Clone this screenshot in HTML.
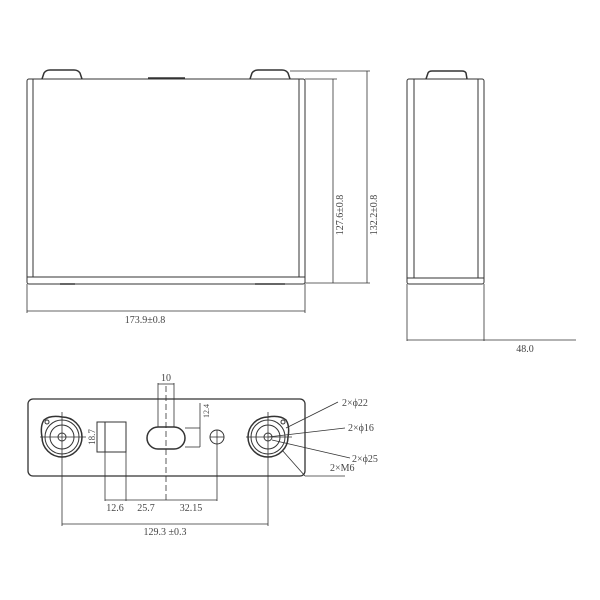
<!DOCTYPE html>
<html><head><style>html,body{margin:0;padding:0;background:#fff}</style></head>
<body>
<svg width="600" height="600" viewBox="0 0 600 600" xmlns="http://www.w3.org/2000/svg" style="display:block">
<g fill="none" stroke="#333" stroke-width="1">
<!-- front view -->
<rect x="27" y="79" width="278" height="205" rx="2"/>
<line x1="33" y1="79" x2="33" y2="277"/>
<line x1="299" y1="79" x2="299" y2="277"/>
<path d="M27 277 L305 277"/>
<path d="M42 79 L44 73 Q46 70 50 70 L74 70 Q78 70 80 73 L82 79" stroke-width="1.5"/>
<path d="M250 79 L252 73 Q254 70 258 70 L282 70 Q286 70 288 73 L290 79" stroke-width="1.5"/>
<line x1="148" y1="78" x2="185" y2="78" stroke-width="1.5"/>
<line x1="60" y1="284" x2="75" y2="284" stroke-width="1.5"/>
<line x1="255" y1="284" x2="285" y2="284" stroke-width="1.5"/>
<!-- dims -->
<line x1="305" y1="79" x2="337" y2="79" stroke-width="0.8"/>
<line x1="305" y1="283" x2="370" y2="283" stroke-width="0.8"/>
<line x1="333" y1="79" x2="333" y2="283" stroke-width="0.8"/>
<line x1="290" y1="71" x2="370" y2="71" stroke-width="0.8"/>
<line x1="367" y1="71" x2="367" y2="283" stroke-width="0.8"/>
<line x1="27" y1="284" x2="27" y2="313" stroke-width="0.8"/>
<line x1="305" y1="284" x2="305" y2="313" stroke-width="0.8"/>
<line x1="27" y1="311" x2="305" y2="311" stroke-width="0.8"/>
<!-- side view -->
<rect x="407" y="79" width="77" height="205" rx="2"/>
<line x1="414" y1="79" x2="414" y2="278"/>
<line x1="478" y1="79" x2="478" y2="278"/>
<line x1="407" y1="278" x2="484" y2="278"/>
<path d="M426 79 L428 73 Q429 71 432 71 L462 71 Q465 71 466 73 L467 79" stroke-width="1.5"/>
<line x1="407" y1="284" x2="407" y2="341" stroke-width="0.8"/>
<line x1="484" y1="284" x2="484" y2="341" stroke-width="0.8"/>
<line x1="407" y1="340" x2="576" y2="340" stroke-width="0.8"/>
<!-- bottom view -->
<rect x="28" y="399" width="277" height="77" rx="5" stroke-width="1.3"/>
<g id="t">
<path d="M62 417 Q50 415 44 420 Q40 426 42 437 A20 20 0 1 0 62 417 Z" stroke-width="1.5"/>
<circle cx="62" cy="437" r="17"/>
<circle cx="62" cy="437" r="12"/>
<circle cx="62" cy="437" r="4"/>
<circle cx="47" cy="422" r="2"/>
</g>
<path d="M268 417 Q280 415 286 420 Q290 426 288 437 A20 20 0 1 1 268 417 Z" stroke-width="1.5"/>
<circle cx="268" cy="437" r="17"/>
<circle cx="268" cy="437" r="12"/>
<circle cx="268" cy="437" r="4"/>
<circle cx="283" cy="422" r="2"/>
<line x1="40" y1="437" x2="86" y2="437" stroke-width="0.8"/>
<line x1="62" y1="412" x2="62" y2="526" stroke-width="0.8"/>
<line x1="246" y1="437" x2="292" y2="437" stroke-width="0.8"/>
<line x1="268" y1="412" x2="268" y2="526" stroke-width="0.8"/>
<rect x="97" y="422" width="29" height="30"/>
<line x1="105" y1="422" x2="105" y2="452"/>
<rect x="147" y="427" width="38" height="22" rx="11" stroke-width="1.5"/>
<circle cx="217" cy="437" r="7"/>
<line x1="210" y1="437" x2="224" y2="437" stroke-width="0.8"/>
<line x1="217" y1="430" x2="217" y2="501" stroke-width="0.8"/>
<line x1="158" y1="383" x2="158" y2="427" stroke-width="0.8"/>
<line x1="174" y1="383" x2="174" y2="427" stroke-width="0.8"/>
<line x1="158" y1="384" x2="174" y2="384" stroke-width="0.8"/>
<line x1="166" y1="386" x2="166" y2="502" stroke-width="0.8" stroke-dasharray="6,3"/>
<line x1="200" y1="403" x2="200" y2="447" stroke-width="0.8"/>
<line x1="185" y1="428" x2="200" y2="428" stroke-width="0.8"/>
<line x1="185" y1="447" x2="200" y2="447" stroke-width="0.8"/>
<line x1="105" y1="452" x2="105" y2="501" stroke-width="0.8"/>
<line x1="126" y1="452" x2="126" y2="501" stroke-width="0.8"/>
<line x1="105" y1="500" x2="217" y2="500" stroke-width="0.8"/>
<line x1="62" y1="524" x2="268" y2="524" stroke-width="0.8"/>
<!-- leaders -->
<line x1="286" y1="428" x2="338" y2="402" stroke-width="0.8"/>
<line x1="268" y1="437" x2="345" y2="428" stroke-width="0.8"/>
<line x1="272" y1="440" x2="350" y2="458" stroke-width="0.8"/>
<line x1="282" y1="450" x2="305" y2="476" stroke-width="0.8"/>
<line x1="305" y1="476" x2="345" y2="476" stroke-width="0.8"/>
</g>
<g font-family="Liberation Serif, serif" font-size="10" fill="#444">
<text x="145" y="323" text-anchor="middle">173.9±0.8</text>
<text x="525" y="352" text-anchor="middle">48.0</text>
<text transform="translate(343,215) rotate(-90)" text-anchor="middle">127.6±0.8</text>
<text transform="translate(377,215) rotate(-90)" text-anchor="middle">132.2±0.8</text>
<text x="166" y="381" text-anchor="middle">10</text>
<text transform="translate(209,411) rotate(-90)" text-anchor="middle" font-size="8">12.4</text>
<text transform="translate(95,437) rotate(-90)" text-anchor="middle" font-size="9">18.7</text>
<text x="115" y="511" text-anchor="middle">12.6</text>
<text x="146" y="511" text-anchor="middle">25.7</text>
<text x="191" y="511" text-anchor="middle">32.15</text>
<text x="165" y="535" text-anchor="middle">129.3 ±0.3</text>
<text x="342" y="406">2×ϕ22</text>
<text x="348" y="431">2×ϕ16</text>
<text x="352" y="462">2×ϕ25</text>
<text x="330" y="471">2×M6</text>
</g>
</svg>
</body></html>
